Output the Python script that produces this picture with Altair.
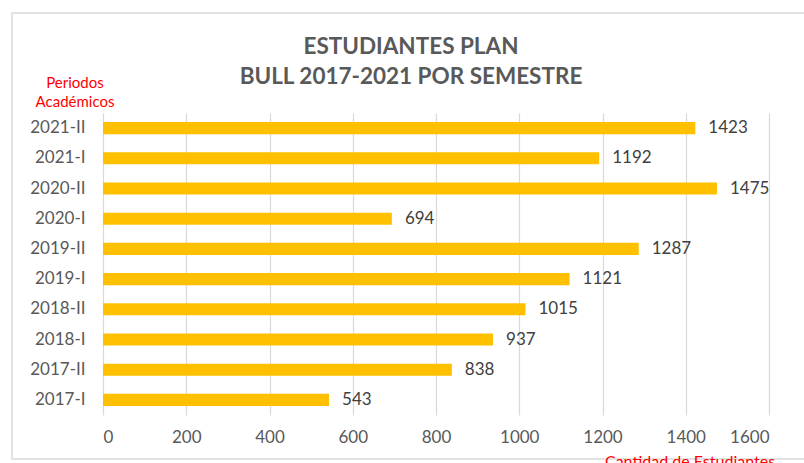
import altair as alt
import pandas as pd

periodos = ["2021-II", "2021-I", "2020-II", "2020-I", "2019-II", "2019-I",
            "2018-II", "2018-I", "2017-II", "2017-I"]
cantidad = [1423, 1192, 1475, 694, 1287, 1121, 1015, 937, 838, 543]
x_ticks = [0, 200, 400, 600, 800, 1000, 1200, 1400, 1600]
titulo = ["ESTUDIANTES PLAN", "BULL 2017-2021 POR SEMESTRE"]

df = pd.DataFrame({"periodo": periodos, "cantidad": cantidad})

FONT = "Lato"
W, H = 666, 302

x = alt.X("cantidad:Q",
          scale=alt.Scale(domain=[0, 1600], nice=False),
          axis=alt.Axis(values=x_ticks, title=None, domain=False, ticks=False,
                        format="d",
                        grid=True, gridColor="#d9d9d9", gridWidth=1.2,
                        labelFont=FONT, labelFontSize=17, labelColor="#595959",
                        labelPadding=14))
y = alt.Y("periodo:N", sort=periodos,
          scale=alt.Scale(paddingInner=0.6, paddingOuter=0.3),
          axis=alt.Axis(title=None, domain=False, ticks=False, grid=False,
                        labelFont=FONT, labelFontSize=17, labelColor="#595959",
                        labelPadding=18))

bars = alt.Chart(df).mark_bar(color="#FFC000").encode(x=x, y=y)
labels = alt.Chart(df).mark_text(align="left", dx=13, font=FONT, fontSize=17,
                                 color="#404040").encode(x=x, y=y, text="cantidad:Q")

border = alt.Chart(pd.DataFrame({"a": [0]})).mark_rect(
    fill=None, stroke="#d9d9d9", strokeWidth=1.5).encode(
    x=alt.value(-91), x2=alt.value(705), y=alt.value(-100), y2=alt.value(346))

title = alt.Chart(pd.DataFrame({"t": [titulo]})).mark_text(
    font=FONT, fontSize=22.5, fontWeight="bold", color="#595959", align="center",
    baseline="middle", lineHeight=30).encode(
    x=alt.value(308), y=alt.value(-66), text="t")

ylab = alt.Chart(pd.DataFrame({"t": [["Periodos", "Académicos"]]})).mark_text(
    font=FONT, fontSize=15, color="#FF0000", align="center", baseline="middle",
    lineHeight=19).encode(x=alt.value(-28), y=alt.value(-30), text="t")

xlab = alt.Chart(pd.DataFrame({"t": ["Cantidad de Estudiantes"]})).mark_text(
    font=FONT, fontSize=16, color="#FF0000", align="center", baseline="middle").encode(
    x=alt.value(587), y=alt.value(349), text="t")

chart = alt.layer(border, bars, labels, title, ylab, xlab).properties(
    width=W, height=H,
    background="white",
    autosize=alt.AutoSizeParams(type="none"),
    padding={"left": 103, "top": 113, "right": 35, "bottom": 48},
).configure_view(stroke=None)

chart.save("out.html", embed_options={"renderer": "svg", "actions": False})
